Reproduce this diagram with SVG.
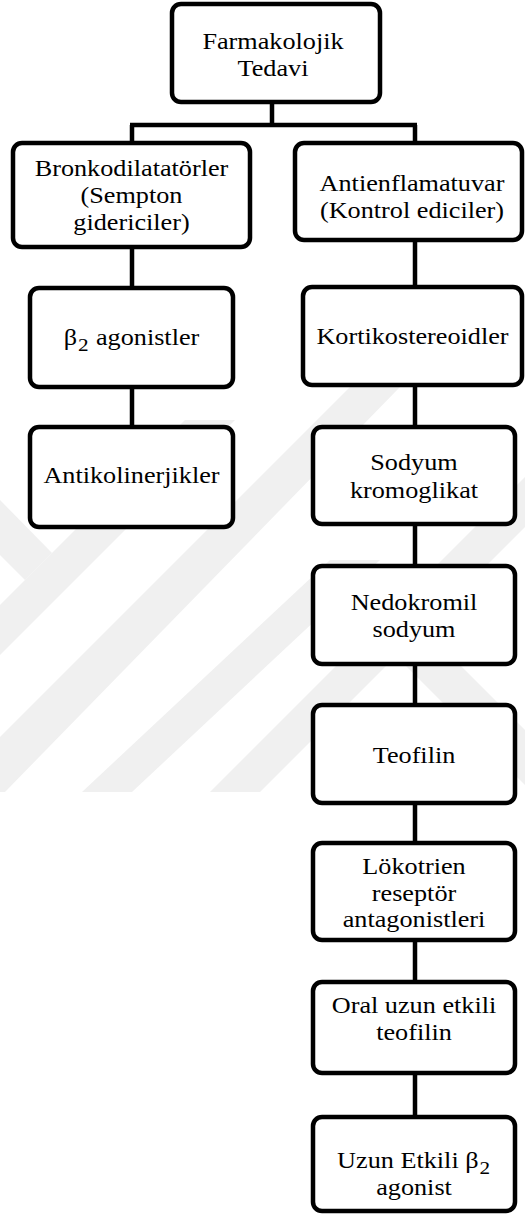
<svg xmlns="http://www.w3.org/2000/svg" width="525" height="1214" viewBox="0 0 525 1214">
<style>
.box{fill:#fff;stroke:#000;stroke-width:4.5}
.t{font-family:"Liberation Serif","Times New Roman",serif;font-size:23px;fill:#000;text-anchor:middle}
.sub{font-size:31px}
.c{fill:none;stroke:#000;stroke-width:4.5}
.wm{fill:#f0f0f0;stroke:none}
</style>
<rect width="525" height="1214" fill="#fff"/>
<g id="watermark">
<polygon class="wm" points="185,420 235,420 0,655 0,605"/>
<polygon class="wm" points="0,500 52,553 25,580 0,555"/>
<polygon class="wm" points="350,387 400,387 5,792 0,792 0,737"/>
<polygon class="wm" points="330,560 380,560 132,792 82,792"/>
<polygon class="wm" points="525,477 525,527 260,792 210,792"/>
<polygon class="wm" points="398,603 525,730 525,785 371,631"/>
</g>
<g id="connectors">
<path class="c" d="M272,101 V125 M130,125 H417 M132,125 V143 M415,125 V143"/>
<path class="c" d="M132,247 V288 M132,387 V427"/>
<path class="c" d="M415,240 V287 M415,385 V427 M415,524 V566 M415,664 V705 M415,803 V843 M415,940 V982 M415,1073 V1117"/>
</g>
<g id="n-farmakolojik">
<rect class="box" x="172" y="4" width="208" height="98" rx="9"/>
<text class="t" transform="translate(273,49) scale(1.14,1)">Farmakolojik</text>
<text class="t" transform="translate(273,76) scale(1.14,1)">Tedavi</text>
</g>
<g id="n-bronkodilatatorler">
<rect class="box" x="13" y="143" width="237" height="104" rx="9"/>
<text class="t" transform="translate(131.5,175.5) scale(1.14,1)">Bronkodilatatörler</text>
<text class="t" transform="translate(131.5,203) scale(1.14,1)">(Sempton</text>
<text class="t" transform="translate(131.5,230) scale(1.14,1)">gidericiler)</text>
</g>
<g id="n-antienflamatuvar">
<rect class="box" x="295" y="143" width="227" height="97" rx="9"/>
<text class="t" transform="translate(412,191) scale(1.14,1)">Antienflamatuvar</text>
<text class="t" transform="translate(412,218) scale(1.14,1)">(Kontrol ediciler)</text>
</g>
<g id="n-b2agonistler">
<rect class="box" x="30" y="288" width="203" height="99" rx="9"/>
<text class="t" transform="translate(131.5,345) scale(1.14,1)">β<tspan class="sub">₂</tspan> agonistler</text>
</g>
<g id="n-antikolinerjikler">
<rect class="box" x="30" y="427" width="203" height="100" rx="9"/>
<text class="t" transform="translate(131.5,483) scale(1.14,1)">Antikolinerjikler</text>
</g>
<g id="n-kortikostereoidler">
<rect class="box" x="303" y="287" width="219" height="98" rx="9"/>
<text class="t" transform="translate(412.5,344) scale(1.14,1)">Kortikostereoidler</text>
</g>
<g id="n-sodyum">
<rect class="box" x="313" y="427" width="202" height="97" rx="9"/>
<text class="t" transform="translate(414,470) scale(1.14,1)">Sodyum</text>
<text class="t" transform="translate(414,498) scale(1.14,1)">kromoglikat</text>
</g>
<g id="n-nedokromil">
<rect class="box" x="313" y="566" width="202" height="98" rx="9"/>
<text class="t" transform="translate(414,610) scale(1.14,1)">Nedokromil</text>
<text class="t" transform="translate(414,637) scale(1.14,1)">sodyum</text>
</g>
<g id="n-teofilin">
<rect class="box" x="313" y="705" width="202" height="98" rx="9"/>
<text class="t" transform="translate(414,763) scale(1.14,1)">Teofilin</text>
</g>
<g id="n-lokotrien">
<rect class="box" x="313" y="843" width="202" height="97" rx="9"/>
<text class="t" transform="translate(414,874) scale(1.14,1)">Lökotrien</text>
<text class="t" transform="translate(414,901) scale(1.14,1)">reseptör</text>
<text class="t" transform="translate(414,927) scale(1.14,1)">antagonistleri</text>
</g>
<g id="n-oral">
<rect class="box" x="313" y="982" width="202" height="91" rx="9"/>
<text class="t" transform="translate(414,1013) scale(1.14,1)">Oral uzun etkili</text>
<text class="t" transform="translate(414,1040) scale(1.14,1)">teofilin</text>
</g>
<g id="n-uzun">
<rect class="box" x="313" y="1117" width="202" height="94" rx="9"/>
<text class="t" transform="translate(414,1168) scale(1.14,1)">Uzun Etkili β<tspan class="sub">₂</tspan></text>
<text class="t" transform="translate(414,1195) scale(1.14,1)">agonist</text>
</g>
</svg>
